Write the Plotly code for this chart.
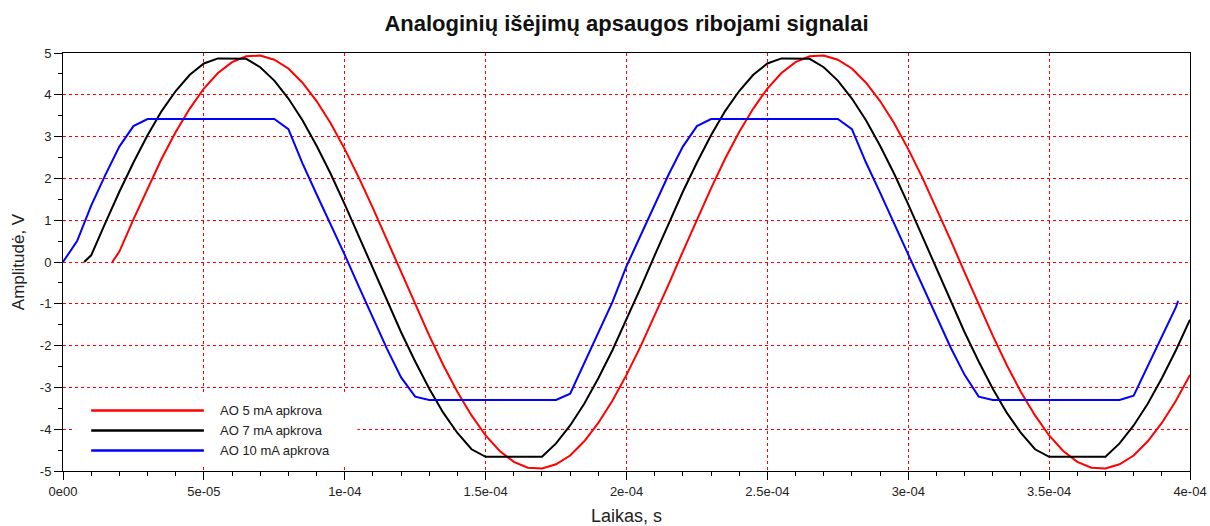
import plotly.graph_objects as go

# ---------------- data ----------------
title_text = "Analoginių išėjimų apsaugos ribojami signalai"
x_label = "Laikas, s"
y_label = "Amplitudė, V"

series_names = ["AO 5 mA apkrova", "AO 7 mA apkrova", "AO 10 mA apkrova"]
series_colors = ["#ff0000", "#000000", "#0000ff"]

# sample times in microseconds
red_t_us = [17.5] + list(range(20, 401, 5))
black_t_us = [7.5] + list(range(10, 401, 5))
blue_t_us = list(range(0, 396, 5)) + [395.8]

red_v = [0.0,
         0.25, 1.02, 1.76, 2.47, 3.11, 3.67, 4.15, 4.52, 4.78, 4.92,
         4.94, 4.84, 4.63, 4.29, 3.85, 3.32, 2.70, 2.02, 1.29, 0.53,
         -0.25, -1.02, -1.76, -2.47, -3.11, -3.67, -4.15, -4.52, -4.78, -4.92,
         -4.94, -4.84, -4.63, -4.29, -3.85, -3.32, -2.70, -2.02, -1.29, -0.53,
         0.25, 1.02, 1.76, 2.47, 3.11, 3.67, 4.15, 4.52, 4.78, 4.92,
         4.94, 4.84, 4.63, 4.29, 3.85, 3.32, 2.70, 2.02, 1.29, 0.53,
         -0.25, -1.02, -1.76, -2.47, -3.11, -3.67, -4.15, -4.52, -4.78, -4.92,
         -4.94, -4.84, -4.63, -4.29, -3.85, -3.32, -2.70]

black_v = [0.0,
           0.16, 0.93, 1.68, 2.38, 3.03, 3.61, 4.09, 4.48, 4.75, 4.87,
           4.87, 4.86, 4.66, 4.34, 3.91, 3.39, 2.78, 2.11, 1.38, 0.62,
           -0.16, -0.93, -1.68, -2.38, -3.03, -3.61, -4.09, -4.48, -4.66, -4.66,
           -4.66, -4.66, -4.66, -4.34, -3.91, -3.39, -2.78, -2.11, -1.38, -0.62,
           0.16, 0.93, 1.68, 2.38, 3.03, 3.61, 4.09, 4.48, 4.75, 4.87,
           4.87, 4.86, 4.66, 4.34, 3.91, 3.39, 2.78, 2.11, 1.38, 0.62,
           -0.16, -0.93, -1.68, -2.38, -3.03, -3.61, -4.09, -4.48, -4.66, -4.66,
           -4.66, -4.66, -4.66, -4.34, -3.91, -3.39, -2.78, -2.11, -1.38]

blue_v = [0.0, 0.50, 1.35, 2.08, 2.76, 3.25,
          3.42, 3.42, 3.42, 3.42, 3.42, 3.42, 3.42, 3.42, 3.42, 3.42,
          3.18, 2.36, 1.62, 0.90, 0.17, -0.59, -1.35, -2.08, -2.76, -3.22,
          -3.30, -3.30, -3.30, -3.30, -3.30, -3.30, -3.30, -3.30, -3.30, -3.30,
          -3.15, -2.41, -1.71, -0.96, -0.10, 0.62, 1.38, 2.10, 2.76, 3.25,
          3.42, 3.42, 3.42, 3.42, 3.42, 3.42, 3.42, 3.42, 3.42, 3.42,
          3.18, 2.38, 1.66, 0.92, 0.22, -0.55, -1.30, -2.04, -2.70, -3.22,
          -3.30, -3.30, -3.30, -3.30, -3.30, -3.30, -3.30, -3.30, -3.30, -3.30,
          -3.20, -2.50, -1.80, -1.08, -0.93]

x_tick_vals = [0, 5e-5, 1e-4, 1.5e-4, 2e-4, 2.5e-4, 3e-4, 3.5e-4, 4e-4]
x_tick_text = ["0e00", "5e-05", "1e-04", "1.5e-04", "2e-04", "2.5e-04",
               "3e-04", "3.5e-04", "4e-04"]
y_tick_vals = [-5, -4, -3, -2, -1, 0, 1, 2, 3, 4, 5]
y_tick_text = ["-5", "-4", "-3", "-2", "-1", "0", "1", "2", "3", "4", "5"]

# legend placement (data coordinates, as in the reference)
legend_line_x = [1e-5, 5e-5]
legend_text_x = 5.5e-5
legend_rows_y = [-3.55, -4.03, -4.51]
legend_box_x = [4.3e-6, 1.045e-4]
legend_box_y = [-4.88, -3.12]

# ---------------- figure ----------------
FONT = "Liberation Sans, Arial, sans-serif"
fig = go.Figure()

all_t = [red_t_us, black_t_us, blue_t_us]
all_v = [red_v, black_v, blue_v]
for name, color, t_us, v in zip(series_names, series_colors, all_t, all_v):
    fig.add_trace(go.Scatter(
        x=[t * 1e-6 for t in t_us], y=v, mode="lines", name=name,
        line=dict(color=color, width=2), showlegend=False))

shapes = [dict(type="rect", xref="x", yref="y",
               x0=legend_box_x[0], x1=legend_box_x[1],
               y0=legend_box_y[0], y1=legend_box_y[1],
               fillcolor="white", line=dict(width=0), layer="between")]
annotations = []
for name, color, yy in zip(series_names, series_colors, legend_rows_y):
    shapes.append(dict(type="line", xref="x", yref="y",
                       x0=legend_line_x[0], x1=legend_line_x[1], y0=yy, y1=yy,
                       line=dict(color=color, width=2.5), layer="above"))
    annotations.append(dict(x=legend_text_x, y=yy, xref="x", yref="y",
                            text=name, showarrow=False, xanchor="left",
                            yanchor="middle",
                            font=dict(family=FONT, size=13, color="#222")))

grid = dict(showgrid=True, gridcolor="rgb(255,0,0)", gridwidth=1,
            griddash="dot")
fig.update_layout(
    template="none",
    width=1210, height=526,
    margin=dict(l=63, r=20, t=53, b=55, autoexpand=False),
    paper_bgcolor="white", plot_bgcolor="white",
    title=dict(text="<b>" + title_text + "</b>", x=0.5, xref="paper",
               y=1 - 23 / 526, yref="container", yanchor="middle",
               xanchor="center",
               font=dict(family=FONT, size=22, color="#111")),
    shapes=shapes, annotations=annotations,
    showlegend=False,
)
fig.update_xaxes(
    range=[0, 4e-4], tickvals=x_tick_vals, ticktext=x_tick_text,
    automargin=False,
    ticks="outside", ticklen=8, tickwidth=1, tickcolor="black",
    showline=True, linecolor="black", linewidth=1, mirror=True,
    zeroline=False,
    minor=dict(dtick=1e-5, ticks="outside", ticklen=4, tickcolor="black",
               showgrid=False),
    tickfont=dict(family=FONT, size=13, color="#222"),
    title=dict(text=x_label, standoff=24,
               font=dict(family=FONT, size=18, color="#222")),
    **grid)
fig.update_yaxes(
    range=[-5, 5], tickvals=y_tick_vals, ticktext=y_tick_text,
    automargin=False,
    ticks="outside", ticklen=8, tickwidth=1, tickcolor="black",
    showline=True, linecolor="black", linewidth=1, mirror=True,
    zeroline=False,
    minor=dict(dtick=0.5, ticks="outside", ticklen=4, tickcolor="black",
               showgrid=False),
    tickfont=dict(family=FONT, size=13, color="#222"),
    title=dict(text=y_label, standoff=10,
               font=dict(family=FONT, size=17, color="#222")),
    **grid)

fig.write_html("out.html")
